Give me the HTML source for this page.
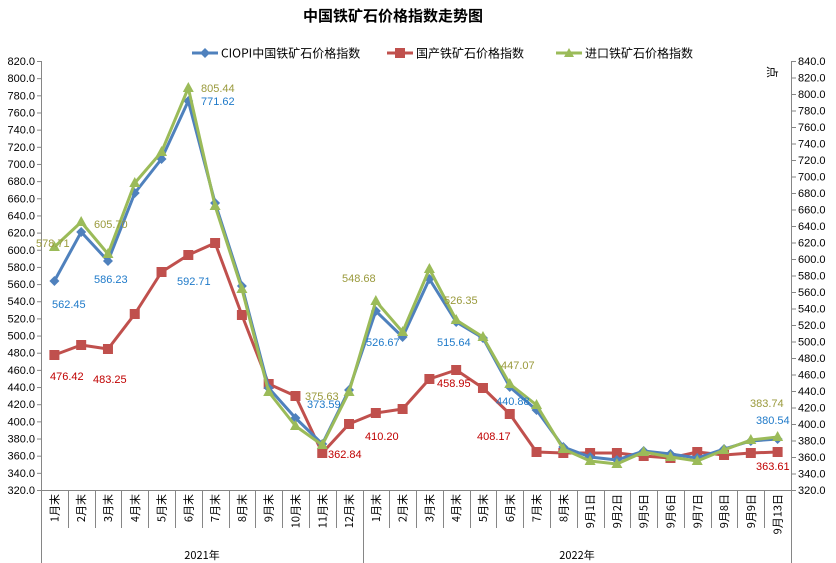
<!DOCTYPE html>
<html><head><meta charset="utf-8"><style>
body{margin:0;background:#fff}
svg{display:block;font-family:"Liberation Sans","Noto Sans CJK SC",sans-serif}
</style></head><body>
<svg width="836" height="563" viewBox="0 0 836 563" xmlns="http://www.w3.org/2000/svg">
<rect width="836" height="563" fill="#fff"/>
<text x="393" y="21" text-anchor="middle" font-size="15" font-weight="bold" font-family="'Noto Sans CJK SC',sans-serif">中国铁矿石价格指数走势图</text>
<g font-size="12" font-family="'Noto Sans CJK SC',sans-serif">
<line x1="192" y1="53" x2="218" y2="53" stroke="#4F81BD" stroke-width="3"/><path d="M205 48 L210 53 L205 58 L200 53Z" fill="#4F81BD"/>
<text x="221" y="57.5">CIOPI中国铁矿石价格指数</text>
<line x1="387" y1="53" x2="413" y2="53" stroke="#C0504D" stroke-width="3"/><rect x="395" y="48" width="10" height="10" fill="#C0504D"/>
<text x="416" y="57.5">国产铁矿石价格指数</text>
<line x1="556" y1="53" x2="582" y2="53" stroke="#9BBB59" stroke-width="3"/><path d="M569 48 L574 57 L564 57Z" fill="#9BBB59"/>
<text x="585" y="57.5">进口铁矿石价格指数</text>
</g>
<text x="762" y="72" font-size="12" transform="rotate(90 768 72)" font-family="'Noto Sans CJK SC',sans-serif">点</text>
<g stroke="#868686" stroke-width="1" fill="none">
<line x1="41.5" y1="61" x2="41.5" y2="563"/>
<line x1="791.5" y1="61" x2="791.5" y2="563"/>
<line x1="41" y1="490.5" x2="792" y2="490.5"/>
<line x1="363.5" y1="490" x2="363.5" y2="563"/>
</g>
<g id="ticks" stroke="#868686" stroke-width="1"></g>
<g id="lab" font-size="11" fill="#000"></g>
<g id="cat" font-size="11" font-family="'Noto Sans CJK SC',sans-serif"></g>
<text x="202" y="559" text-anchor="middle" font-size="11" font-family="'Noto Sans CJK SC',sans-serif">2021年</text>
<text x="577" y="559" text-anchor="middle" font-size="11" font-family="'Noto Sans CJK SC',sans-serif">2022年</text>
<g id="series"></g>
<g font-size="11">
<text x="36" y="247" fill="#9A9A3C">578.71</text>
<text x="94" y="228" fill="#9A9A3C">605.70</text>
<text x="201" y="92" fill="#9A9A3C">805.44</text>
<text x="201" y="105" fill="#1F7AC9">771.62</text>
<text x="52" y="308" fill="#1F7AC9">562.45</text>
<text x="94" y="283" fill="#1F7AC9">586.23</text>
<text x="177" y="285" fill="#1F7AC9">592.71</text>
<text x="50" y="380" fill="#C00000">476.42</text>
<text x="93" y="383" fill="#C00000">483.25</text>
<text x="305" y="400" fill="#9A9A3C">375.63</text>
<text x="307" y="408" fill="#1F7AC9">373.59</text>
<text x="328" y="458" fill="#C00000">362.84</text>
<text x="342" y="282" fill="#9A9A3C">548.68</text>
<text x="366" y="346" fill="#1F7AC9">526.67</text>
<text x="365" y="440" fill="#C00000">410.20</text>
<text x="444" y="304" fill="#9A9A3C">526.35</text>
<text x="437" y="346" fill="#1F7AC9">515.64</text>
<text x="437" y="387" fill="#C00000">458.95</text>
<text x="501" y="369" fill="#9A9A3C">447.07</text>
<text x="496" y="405" fill="#1F7AC9">440.88</text>
<text x="477" y="440" fill="#C00000">408.17</text>
<text x="750" y="407" fill="#9A9A3C">383.74</text>
<text x="756" y="424" fill="#1F7AC9">380.54</text>
<text x="756" y="470" fill="#C00000">363.61</text>
</g>
<script>
(function(){
var ns="http://www.w3.org/2000/svg";
function el(t,a,p,txt){var e=document.createElementNS(ns,t);for(var k in a)e.setAttribute(k,a[k]);if(txt!=null)e.textContent=txt;document.getElementById(p).appendChild(e);return e;}
var top=61,bot=490;
for(var i=0;i<=25;i++){var v=820-i*20;var y=top+(820-v)*(bot-top)/500;
 el('line',{x1:37,y1:y+0.5,x2:41,y2:y+0.5},'ticks');
 el('text',{x:35,y:y+4,'text-anchor':'end'},'lab',v.toFixed(1));}
for(var i=0;i<=26;i++){var v=840-i*20;var y=top+(840-v)*(bot-top)/520;
 el('line',{x1:792,y1:y+0.5,x2:796,y2:y+0.5},'ticks');
 el('text',{x:798,y:y+4},'lab',v.toFixed(1));}
var cats=["1月末","2月末","3月末","4月末","5月末","6月末","7月末","8月末","9月末","10月末","11月末","12月末","1月末","2月末","3月末","4月末","5月末","6月末","7月末","8月末","9月1日","9月2日","9月5日","9月6日","9月7日","9月8日","9月9日","9月13日"];
var w=750/28;
for(var i=0;i<28;i++){var cx=41+w*(i+0.5);
 if(i>0&&i!=12) el('line',{x1:Math.round(41+w*i)+0.5,y1:490,x2:Math.round(41+w*i)+0.5,y2:528},'ticks');
 el('text',{x:0,y:0,'text-anchor':'end',transform:'translate('+(cx+4)+',494) rotate(-90)'},'cat',cats[i]);}
var B=[281,232,261,193,159,101,203,286,388,418,444,390,311,337,279,322,338,387,410,447,457,460,451,454,458,449,441,439];
var G=[247,222,254,183,152,88,206,289,392,426,445,392,301,332,269,320,337,384,405,449,461,464,452,457,461,450,440,437];
var R=[355,345,349,314,272,255,243,315,384,396,453,424,413,409,379,370,388,414,452,453,453,453,456,458,452,455,453,452];
function pts(a){return a.map(function(y,i){return (41+w*(i+0.5)).toFixed(1)+','+y;}).join(' ');}
el('polyline',{points:pts(R),fill:'none',stroke:'#C0504D','stroke-width':3,'stroke-linejoin':'round'},'series');
R.forEach(function(y,i){var x=41+w*(i+0.5);el('rect',{x:x-5,y:y-5,width:10,height:10,fill:'#C0504D'},'series');});
el('polyline',{points:pts(B),fill:'none',stroke:'#4F81BD','stroke-width':3,'stroke-linejoin':'round'},'series');
B.forEach(function(y,i){var x=41+w*(i+0.5);el('path',{d:'M'+x+' '+(y-5)+' l5 5 l-5 5 l-5 -5Z',fill:'#4F81BD'},'series');});
el('polyline',{points:pts(G),fill:'none',stroke:'#9BBB59','stroke-width':3,'stroke-linejoin':'round'},'series');
G.forEach(function(y,i){var x=41+w*(i+0.5);el('path',{d:'M'+x+' '+(y-6)+' l5.5 10 l-11 0Z',fill:'#9BBB59'},'series');});
})();
</script>
</svg>
</body></html>
